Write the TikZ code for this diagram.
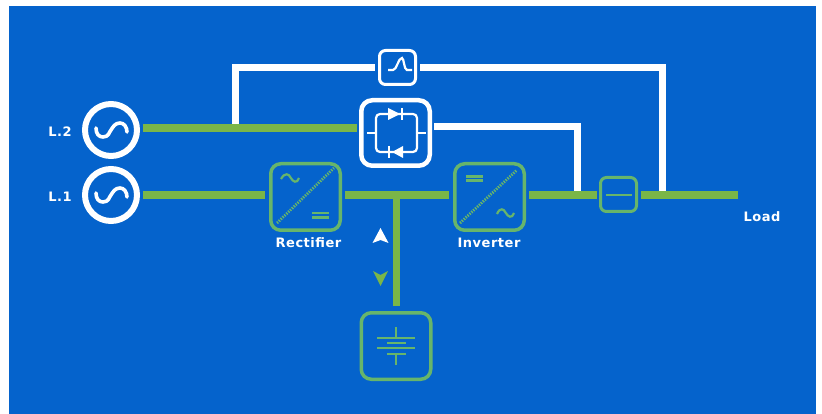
\documentclass[tikz,border=0pt]{standalone}
\usepackage{fontspec}
\setmainfont{DejaVu Sans}[LetterSpace=4]
\definecolor{bluebg}{HTML}{0563CC}
\definecolor{greenln}{HTML}{7AB648}
\definecolor{greenbx}{HTML}{67B56B}
\begin{document}
\begin{tikzpicture}[x=1pt,y=-1pt,
  wline/.style={draw=white,line width=7pt},
  gline/.style={draw=greenln,line width=7.5pt},
  thinw/.style={draw=white,line width=2.2pt},
  glyph/.style={draw=greenbx,line width=2.2pt},
  srcnode/.style={circle,draw=white,line width=6pt,minimum size=52pt,inner sep=0pt,fill=bluebg},
  gbox/.style={rounded corners=10pt,draw=greenbx,line width=3.5pt,inner sep=0pt,fill=bluebg,minimum width=69.5pt,minimum height=66.5pt},
  smallbox/.style={rounded corners=6pt,line width=3pt,inner sep=0pt,fill=bluebg,minimum width=36pt,minimum height=34pt},
  lab/.style={text=white,font=\bfseries\fontsize{13}{15}\selectfont,inner sep=0pt},
  diag/.style={draw=greenbx,line width=2.8pt,dash pattern=on 1.4pt off 1.2pt},
]
\useasboundingbox (0,0) rectangle (822,414);
\fill[white] (0,0) rectangle (822,414);
\fill[bluebg] (9,6) rectangle (816,414);
% junctions
\coordinate (j2) at (235,128);
\coordinate (j1) at (396.5,195);
\coordinate (ja) at (577,195);
\coordinate (jb) at (662,195);
\coordinate (load) at (738,195);
\coordinate (ctl) at (235,67.5);
\coordinate (ctr) at (662,67.5);
\coordinate (cts) at (577,127);
% boxes
\node[srcnode] (s2) at (111,130) {};
\node[srcnode] (s1) at (111,195) {};
\node[gbox] (rect) at (305.5,197) {};
\node[gbox] (inv) at (489.5,197) {};
\node[gbox] (bat) at (396,346) {};
\node[smallbox,draw=greenbx] (sw) at (618.5,194.5) {};
\node[smallbox,draw=white] (sbs) at (397.5,67.5) {};
\node[rounded corners=11pt,draw=white,line width=4.5pt,inner sep=0pt,fill=bluebg,minimum width=68.5pt,minimum height=65.5pt] (sts) at (395.5,133) {};
% white lines
\draw[wline,shorten >=3pt] (j2) -- (ctl) -- (sbs.west);
\draw[wline,shorten <=3pt] (sbs.east) -- (ctr) -- (jb);
\draw[wline,shorten <=2pt] (cts -| sts.east) -- (cts) -- (ja);
% green lines
\draw[gline,shorten <=3pt,shorten >=2pt] (j2 -| s2.east) -- (j2 -| sts.west);
\draw[gline,shorten <=3pt,shorten >=4pt] (j1 -| s1.east) -- (j1 -| rect.west);
\draw[gline,shorten <=3pt,shorten >=4pt] (j1 -| rect.east) -- (j1 -| inv.west);
\draw[gline,shorten <=3pt,shorten >=2pt] (j1 -| inv.east) -- (j1 -| sw.west);
\draw[gline,shorten <=3pt] (j1 -| sw.east) -- (load);
\draw[gline,shorten >=5pt] (j1) -- (j1 |- bat.north);
% sources
\foreach \cx/\cy in {111/130,111/195}{
  \draw[white,line width=3.6pt,line cap=round] (\cx-15,\cy-2) .. controls (\cx-15,\cy+4) and (\cx-12,\cy+7) .. (\cx-8,\cy+7) .. controls (\cx-2,\cy+7) and (\cx-2,\cy+2) .. (\cx,\cy) .. controls (\cx+2,\cy-3) and (\cx+4,\cy-7) .. (\cx+9,\cy-7) .. controls (\cx+13,\cy-7) and (\cx+16,\cy-3) .. (\cx+16,\cy+2);
}
\node[lab] (tl2) at (60,132) {L.2};
\node[lab] (tl1) at (60,197) {L.1};
% rectifier
\draw[glyph] (281,179) .. controls (285,172) and (289,174) .. (290.5,177.5) .. controls (293,182) and (297,184) .. (299,178);
\draw[glyph] (312,213) -- (329,213) (312,217.5) -- (329,217.5);
\draw[diag] (277,223) -- (334,168);
\node[lab] (trect) at (308.5,243) {Rectifier};
% inverter
\draw[glyph] (466,176.5) -- (483,176.5) (466,180.5) -- (483,180.5);
\draw[glyph] (497,214) .. controls (500,207) and (504,209) .. (505.5,212.5) .. controls (508,217) and (512,219) .. (514,213);
\draw[diag] (460,223) -- (517,170);
\node[lab] (tinv) at (489,243) {Inverter};
% switch
\draw[glyph,line width=2.5pt] (606,195) -- (632,195);
% battery
\draw[glyph,line width=2pt] (396,327) -- (396,338) (396,354) -- (396,365)
  (377,338) -- (415,338) (387,343) -- (406,343) (377,348) -- (415,348) (387,354) -- (406,354);
% arrows
\fill[white] (380.5,228) -- (388.5,243) -- (380.5,240) -- (372.5,243) -- cycle;
\fill[greenln] (380.5,286) -- (373,271) -- (380.5,275) -- (388,271) -- cycle;
% load
\node[lab] (tload) at (762,217) {Load};
% bypass symbol
\draw[white,line width=2.2pt] (388,70) -- (393,70) .. controls (397,70) and (398,58) .. (402,58) .. controls (404,58) and (404,70) .. (407,70) -- (412,70);
% static switch
\draw[thinw,rounded corners=4pt] (376,133) -- (376,114) -- (417,114) -- (417,152) -- (376,152) -- cycle;
\draw[thinw] (367,133) -- (376,133) (417,133) -- (426,133);
\fill[white] (388,108) -- (400,114) -- (388,120) -- cycle;
\draw[white,line width=2pt] (402,108) -- (402,120);
\fill[white] (403,146) -- (392,152) -- (403,158) -- cycle;
\draw[white,line width=2pt] (389,146) -- (389,158);
\end{tikzpicture}
\end{document}
